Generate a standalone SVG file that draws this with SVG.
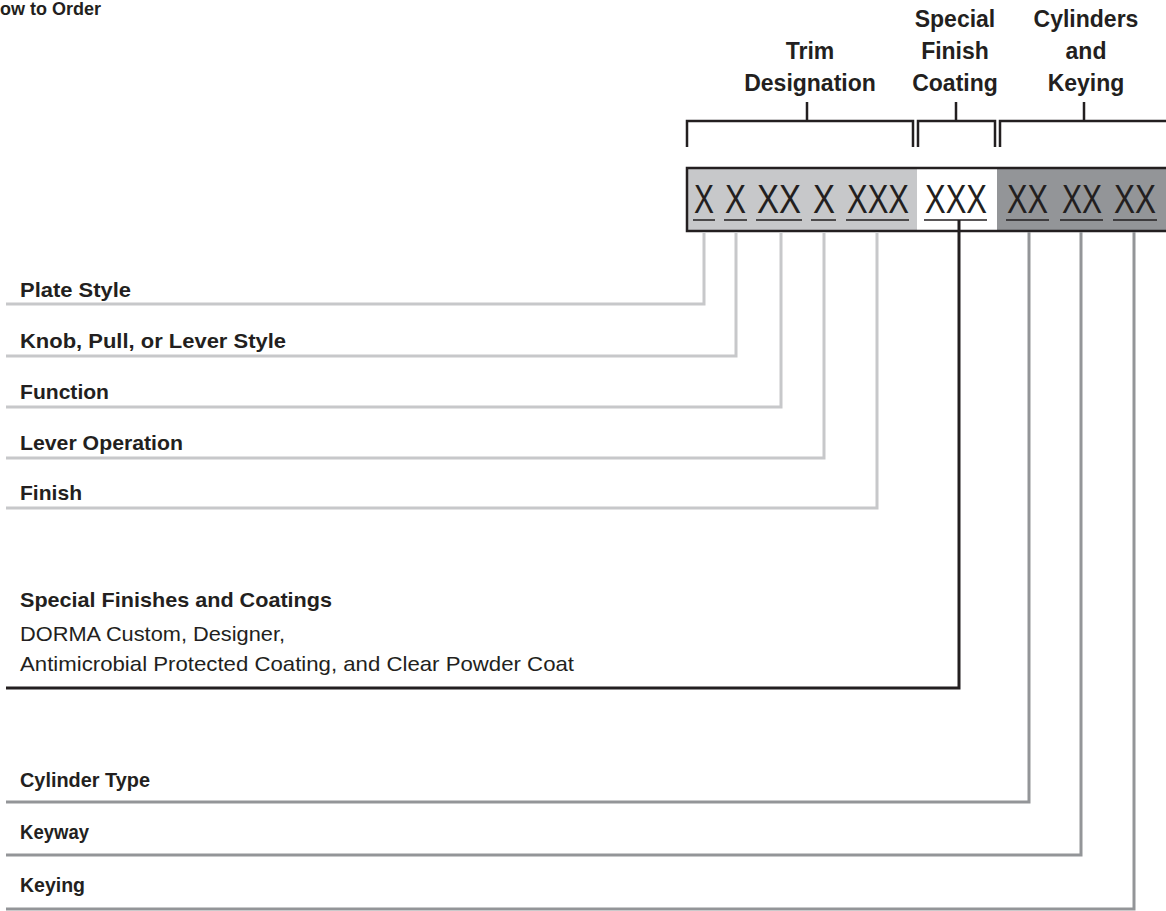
<svg xmlns="http://www.w3.org/2000/svg" width="1166" height="911" viewBox="0 0 1166 911">
<style>
text{font-family:"Liberation Sans",Arial,sans-serif;fill:#231f20}
.b{font-weight:bold}
.h{font-weight:bold;font-size:23px;text-anchor:middle}
.lab{font-weight:bold;font-size:21px}
.reg{font-size:21px}
.code{font-size:40px}
.br{fill:none;stroke:#231f20;stroke-width:2.5}
.ul{stroke:#231f20;stroke-width:1.5}
.c{fill:none;stroke-width:3}
.light{stroke:#c7c8ca}
.dark{stroke:#939598}
.black{stroke:#231f20}
</style>
<rect width="1166" height="911" fill="#fff"/>
<g id="title"><text class="b" x="-13" y="15" font-size="18">How to Order</text></g>

<g id="header-trim">
<text class="h" x="810" y="59">Trim</text>
<text class="h" x="810" y="91">Designation</text>
<path class="br" d="M687,147 V121 H913 V147 M807,121 V102"/>
</g>
<g id="header-special">
<text class="h" x="955" y="27">Special</text>
<text class="h" x="955" y="59">Finish</text>
<text class="h" x="955" y="91">Coating</text>
<path class="br" d="M918,147 V121 H995 V147 M956,121 V102"/>
</g>
<g id="header-cylinders">
<text class="h" x="1086" y="27">Cylinders</text>
<text class="h" x="1086" y="59">and</text>
<text class="h" x="1086" y="91">Keying</text>
<path class="br" d="M1000,147 V121 H1170 M1084,121 V102"/>
</g>

<g id="code-box">
<rect x="687" y="168" width="230" height="63" fill="#c7c8ca"/>
<rect x="917" y="168" width="80" height="63" fill="#fff"/>
<rect x="997" y="168" width="175" height="63" fill="#939598"/>
<rect x="687" y="168" width="490" height="63" fill="none" stroke="#231f20" stroke-width="2.5"/>
<text class="code" x="694" y="213" textLength="20" lengthAdjust="spacingAndGlyphs">X</text>
<text class="code" x="725" y="213" textLength="21" lengthAdjust="spacingAndGlyphs">X</text>
<text class="code" x="757" y="213" textLength="44" lengthAdjust="spacingAndGlyphs">XX</text>
<text class="code" x="813" y="213" textLength="22" lengthAdjust="spacingAndGlyphs">X</text>
<text class="code" x="847" y="213" textLength="62" lengthAdjust="spacingAndGlyphs">XXX</text>
<text class="code" x="925" y="213" textLength="62" lengthAdjust="spacingAndGlyphs">XXX</text>
<text class="code" x="1007" y="213" textLength="41" lengthAdjust="spacingAndGlyphs">XX</text>
<text class="code" x="1062" y="213" textLength="40" lengthAdjust="spacingAndGlyphs">XX</text>
<text class="code" x="1114" y="213" textLength="42" lengthAdjust="spacingAndGlyphs">XX</text>
<path class="ul" d="M693,220 H715 M724,220 H747 M756,220 H802 M811,220 H836 M846,220 H909 M924,220 H987 M1006,220 H1049 M1060,220 H1103 M1113,220 H1157"/>
</g>

<g id="connectors">
<path class="c light" d="M704,232 V304 H6"/>
<path class="c light" d="M736,232 V356 H6"/>
<path class="c light" d="M781,232 V407 H6"/>
<path class="c light" d="M824,232 V458 H6"/>
<path class="c light" d="M877,232 V508 H6"/>
<path class="c black" d="M959,220 V688 H6"/>
<path class="c dark" d="M1029,232 V802 H6"/>
<path class="c dark" d="M1081,232 V855 H6"/>
<path class="c dark" d="M1134,232 V909 H6"/>
</g>

<g id="label-plate-style"><text class="lab" x="20" y="297" textLength="111" lengthAdjust="spacingAndGlyphs">Plate Style</text></g>
<g id="label-knob"><text class="lab" x="20" y="348" textLength="266" lengthAdjust="spacingAndGlyphs">Knob, Pull, or Lever Style</text></g>
<g id="label-function"><text class="lab" x="20" y="399" textLength="89" lengthAdjust="spacingAndGlyphs">Function</text></g>
<g id="label-lever-operation"><text class="lab" x="20" y="450" textLength="163" lengthAdjust="spacingAndGlyphs">Lever Operation</text></g>
<g id="label-finish"><text class="lab" x="20" y="500" textLength="62" lengthAdjust="spacingAndGlyphs">Finish</text></g>
<g id="label-special">
<text class="lab" x="20" y="607" textLength="312" lengthAdjust="spacingAndGlyphs">Special Finishes and Coatings</text>
<text class="reg" x="20" y="641" textLength="265" lengthAdjust="spacingAndGlyphs">DORMA Custom, Designer,</text>
<text class="reg" x="20" y="671" textLength="554" lengthAdjust="spacingAndGlyphs">Antimicrobial Protected Coating, and Clear Powder Coat</text>
</g>
<g id="label-cylinder-type"><text class="lab" x="20" y="787" textLength="130" lengthAdjust="spacingAndGlyphs">Cylinder Type</text></g>
<g id="label-keyway"><text class="lab" x="20" y="839" textLength="69" lengthAdjust="spacingAndGlyphs">Keyway</text></g>
<g id="label-keying"><text class="lab" x="20" y="892" textLength="65" lengthAdjust="spacingAndGlyphs">Keying</text></g>
</svg>
